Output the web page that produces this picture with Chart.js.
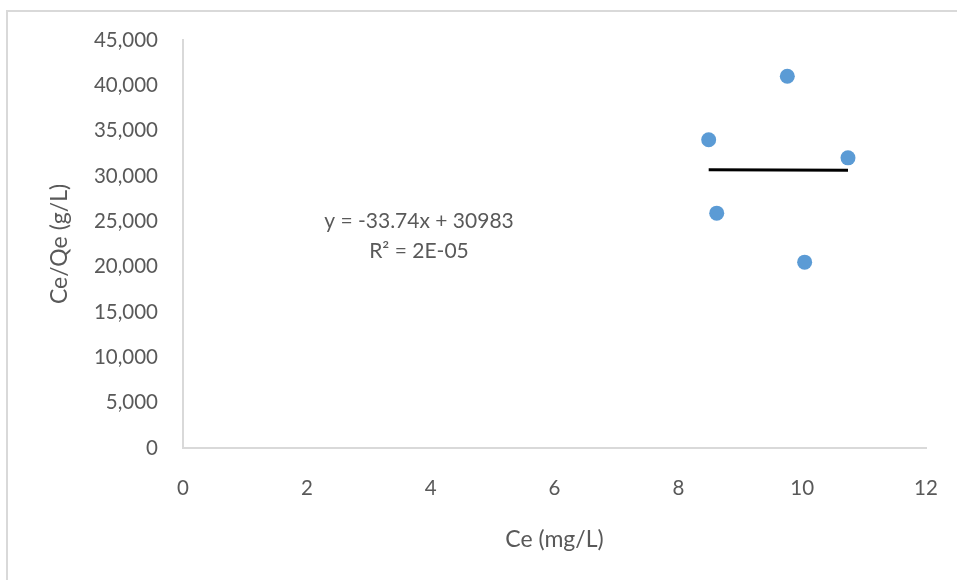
<!DOCTYPE html>
<html>
<head>
<meta charset="utf-8">
<script src="https://cdn.jsdelivr.net/npm/chart.js@4"></script>
<style>
  html, body { margin: 0; padding: 0; background: #fff; }
  .wrap { position: relative; width: 957px; height: 580px; }
  .frame { position: absolute; left: 6px; top: 10px; right: -4px; bottom: -4px; border-left: 2px solid #d9d9d9; border-top: 2px solid #d9d9d9; }
  canvas { position: absolute; left: 0; top: 0; }
</style>
</head>
<body>
<div class="wrap">
  <div class="frame"></div>
  <canvas id="c" width="957" height="580"></canvas>
</div>
<script>
// data
const ceValues = [8.49, 8.62, 9.76, 10.04, 10.74];
const ceQeValues = [34000, 25900, 41000, 20500, 32000];
const xTicks = [0, 2, 4, 6, 8, 10, 12];
const yTicks = [0, 5000, 10000, 15000, 20000, 25000, 30000, 35000, 40000, 45000];
const trendSlope = -33.74;
const trendIntercept = 30983;
const eqLines = ['y = -33.74x + 30983', 'R² = 2E-05'];

const FONT = 'Lato, "Open Sans", sans-serif';
const GREY = '#595959';

const xMin = Math.min(...ceValues), xMax = Math.max(...ceValues);
const trend = [xMin, xMax].map(x => ({ x, y: trendSlope * x + trendIntercept }));

const titlesPlugin = {
  id: 'titles',
  afterDraw(chart) {
    const { ctx, chartArea: a } = chart;
    ctx.save();
    ctx.fillStyle = GREY;
    ctx.textAlign = 'center';
    ctx.textBaseline = 'middle';
    ctx.font = '23px ' + FONT;
    ctx.fillText('Ce (mg/L)', (a.left + a.right) / 2, 540);
    ctx.save();
    ctx.translate(60, (a.top + a.bottom) / 2);
    ctx.rotate(-Math.PI / 2);
    ctx.fillText('Ce/Qe (g/L)', 0, 0);
    ctx.restore();
    // trendline label
    ctx.font = '21px ' + FONT;
    ctx.fillText(eqLines[0], 419, 221);
    ctx.fillText(eqLines[1], 419, 251);
    ctx.restore();
  }
};

new Chart(document.getElementById('c'), {
  type: 'scatter',
  data: {
    datasets: [
      {
        data: ceValues.map((x, i) => ({ x, y: ceQeValues[i] })),
        backgroundColor: '#5b9bd5', borderColor: '#5b9bd5',
        pointRadius: 7.5, pointHoverRadius: 7.5, borderWidth: 0,
      },
      {
        type: 'line', data: trend,
        borderColor: '#000', borderWidth: 3, pointRadius: 0, fill: false,
      },
    ],
  },
  options: {
    responsive: false, animation: false,
    layout: { padding: { left: 0, right: 31, top: 40, bottom: 0 } },
    plugins: { legend: { display: false }, tooltip: { enabled: false } },
    scales: {
      x: {
        type: 'linear', min: 0, max: 12,
        afterBuildTicks: (s) => { s.ticks = xTicks.map(v => ({ value: v })); },
        afterFit: (s) => { s.height = 132; s.paddingLeft = 0; s.paddingRight = 0; },
        grid: { display: false, drawTicks: false },
        border: { color: '#d9d9d9', width: 2 },
        ticks: { color: GREY, font: { family: FONT, size: 20.5 }, padding: 28 },
      },
      y: {
        type: 'linear', min: 0, max: 45000,
        afterBuildTicks: (s) => { s.ticks = yTicks.map(v => ({ value: v })); },
        afterFit: (s) => { s.width = 183; s.paddingTop = 0; s.paddingBottom = 0; },
        grid: { display: false, drawTicks: false },
        border: { color: '#d9d9d9', width: 2 },
        ticks: {
          color: GREY, font: { family: FONT, size: 20.5 }, padding: 25,
          callback: (v) => v.toLocaleString('en-US'),
        },
      },
    },
  },
  plugins: [titlesPlugin],
});
</script>
</body>
</html>
